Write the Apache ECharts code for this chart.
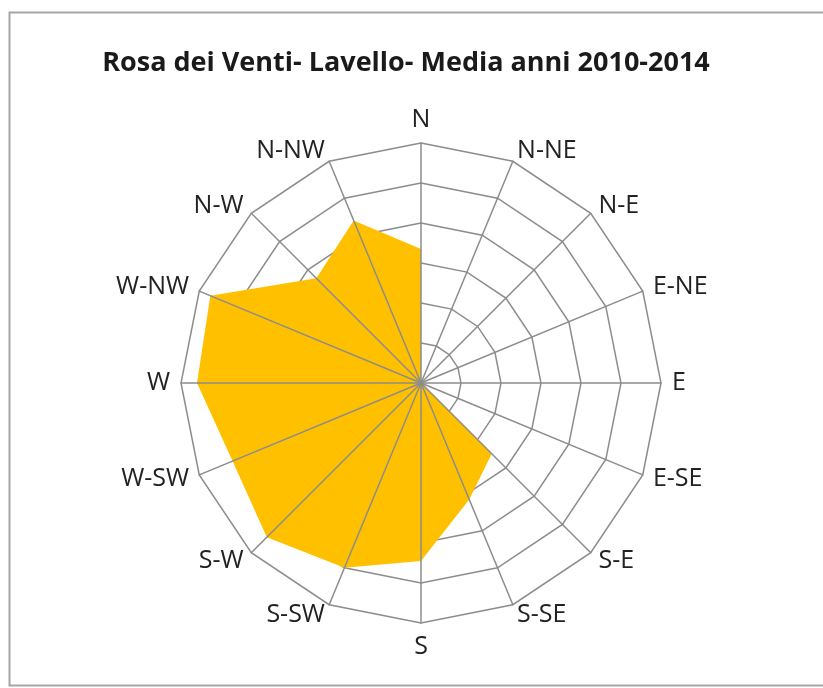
<!DOCTYPE html>
<html>
<head>
<meta charset="utf-8">
<script src="https://cdn.jsdelivr.net/npm/echarts@6/dist/echarts.min.js"></script>
<style>
html,body{margin:0;padding:0;background:#fff;}
#c{width:823px;height:688px;}
</style>
</head>
<body>
<div id="c"></div>
<script>
// Directions in drawing order (counter-clockwise from North, as ECharts radar lays them out)
const directions = ["N","N-NW","N-W","W-NW","W","W-SW","S-W","S-SW","S","S-SE","S-E","E-SE","E","E-NE","N-E","N-NE"];
const frequencies = [6.7, 8.8, 7.4, 11.4, 11.2, 10.2, 10.9, 10.0, 8.9, 6.3, 5.0, 0, 0, 0, 0, 0];
const axisMax = 12;
const titleText = "Rosa dei Venti- Lavello- Media anni 2010-2014";

const indicators = directions.map(d => ({ name: d, min: 0, max: axisMax }));
const lineColor = '#8c8c8c';

const chart = echarts.init(document.getElementById('c'), null, { renderer: 'canvas' });
chart.setOption({
  backgroundColor: '#ffffff',
  animation: false,
  title: {
    text: titleText,
    left: 401, top: 45, textAlign: 'center',
    textStyle: { fontFamily: 'Open Sans', fontWeight: 700, fontSize: 27, color: '#1a1a1a' }
  },
  graphic: [{
    type: 'rect', left: 7, top: 10, z: 0,
    shape: { width: 830, height: 673 },
    style: { fill: 'none', stroke: '#a6a6a6', lineWidth: 2 }
  }],
  radar: [{
    center: [421, 383], radius: 240, startAngle: 90, splitNumber: 6,
    shape: 'polygon', indicator: indicators, z: 1,
    nameGap: 11,
    axisName: { color: '#222222', fontFamily: 'Open Sans', fontSize: 25 },
    splitLine: { show: true, lineStyle: { color: lineColor, width: 1.5 } },
    splitArea: { show: false },
    axisLine: { show: false },
    axisTick: { show: false }, axisLabel: { show: false }
  }, {
    center: [421, 383], radius: 240, startAngle: 90, splitNumber: 6,
    shape: 'polygon', indicator: indicators, z: 3,
    axisName: { show: false },
    splitLine: { show: false },
    splitArea: { show: false },
    axisLine: { show: true, lineStyle: { color: lineColor, width: 1.5 } },
    axisTick: { show: false }, axisLabel: { show: false }
  }],
  series: [{
    type: 'radar', radarIndex: 0, z: 2,
    symbol: 'none',
    lineStyle: { width: 0 },
    areaStyle: { color: '#FFC000', opacity: 1 },
    data: [{ value: frequencies, name: 'Frequenza' }]
  }]
});
</script>
</body>
</html>
